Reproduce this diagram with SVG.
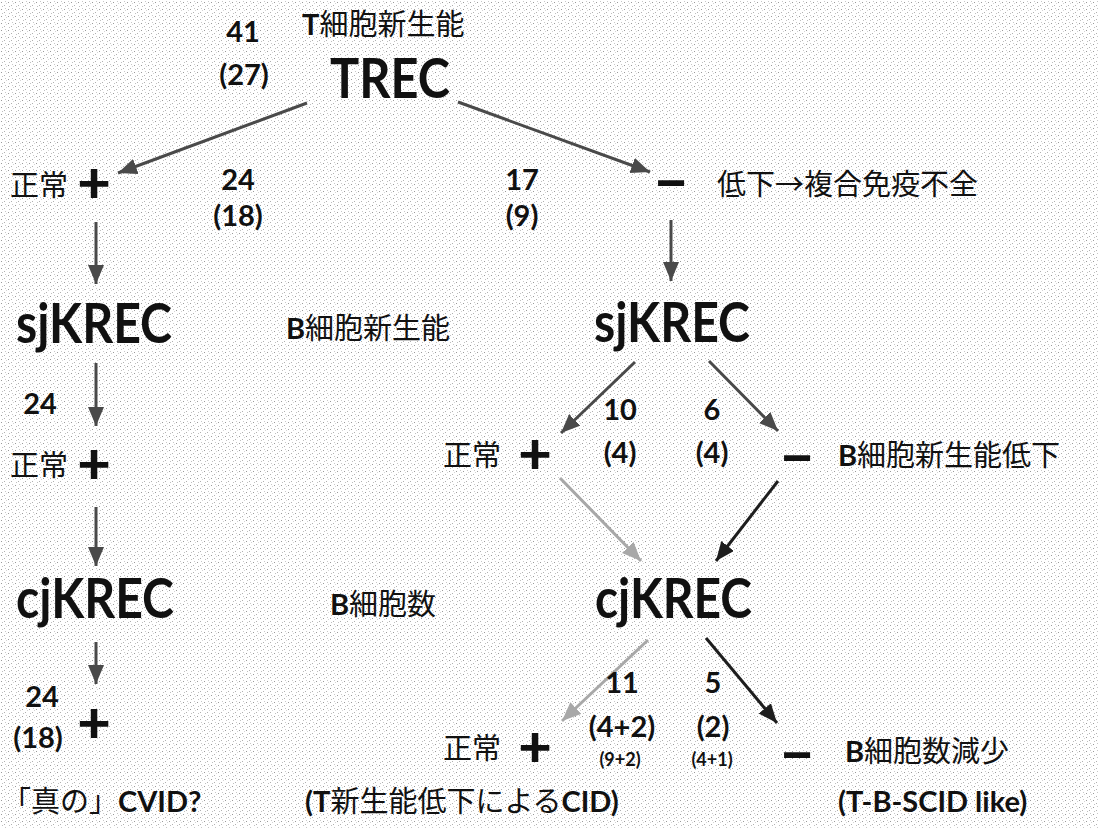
<svg xmlns="http://www.w3.org/2000/svg" width="1098" height="828" viewBox="0 0 1098 828">
<defs>
<pattern id="bg" width="7" height="7" patternUnits="userSpaceOnUse">
<rect width="7" height="7" fill="#ffffff"/>
<rect x="1" y="2" width="1" height="1" fill="#9a9a9a"/>
<rect x="4" y="5" width="1" height="1" fill="#b0b0b0"/>
<rect x="5" y="1" width="1" height="1" fill="#c8c8c8"/>
<rect x="2" y="6" width="1" height="1" fill="#c0c0c0"/>
<rect x="6" y="3" width="1" height="1" fill="#d4d4d4"/>
</pattern>
<marker id="aDark" markerUnits="userSpaceOnUse" markerWidth="22" markerHeight="18" refX="19" refY="8" orient="auto"><path d="M0,0 L19,8 L0,16 z" fill="#4a4a4a"/></marker>
<marker id="aLight" markerUnits="userSpaceOnUse" markerWidth="22" markerHeight="18" refX="19" refY="8" orient="auto"><path d="M0,0 L19,8 L0,16 z" fill="#a8a8a8"/></marker>
<marker id="aBlack" markerUnits="userSpaceOnUse" markerWidth="22" markerHeight="18" refX="19" refY="8" orient="auto"><path d="M0,0 L19,8 L0,16 z" fill="#1e1e1e"/></marker>
</defs>
<style>
text{font-family:Lato,"Noto Sans CJK JP",sans-serif;fill:#111}
.num{font-size:29px;font-weight:700;text-anchor:middle}
.sm{font-size:18px;font-weight:700;text-anchor:middle}
.big{font-size:55px;font-weight:700}
.jp{font-size:29px;font-family:"Noto Sans CJK JP",sans-serif}
.b{font-family:Lato,sans-serif;font-weight:700}
.sym{font-size:58px;font-weight:900;text-anchor:middle}
.lab{font-size:29px;font-weight:700}
.dark{stroke:#4a4a4a;stroke-width:3;fill:none;marker-end:url(#aDark)}
.light{stroke:#a8a8a8;stroke-width:3;fill:none;marker-end:url(#aLight)}
.black{stroke:#1e1e1e;stroke-width:3;fill:none;marker-end:url(#aBlack)}
</style>
<rect width="1098" height="828" fill="url(#bg)"/>

<g id="connectors">
<line class="dark" x1="307" y1="103" x2="118" y2="173"/>
<line class="dark" x1="458" y1="102" x2="650" y2="172"/>
<line class="dark" x1="96" y1="222" x2="96" y2="284"/>
<line class="dark" x1="96" y1="363" x2="96" y2="426"/>
<line class="dark" x1="96" y1="507" x2="96" y2="566"/>
<line class="dark" x1="96" y1="642" x2="96" y2="684"/>
<line class="dark" x1="671" y1="220" x2="671" y2="281"/>
<line class="dark" x1="635" y1="362" x2="561" y2="433"/>
<line class="dark" x1="709" y1="361" x2="778" y2="431"/>
<line class="light" x1="560" y1="478" x2="641" y2="561"/>
<line class="black" x1="778" y1="481" x2="716" y2="561"/>
<line class="light" x1="648" y1="640" x2="562" y2="721"/>
<line class="black" x1="706" y1="638" x2="777" y2="723"/>
</g>

<g id="trec">
<text class="num" x="243" y="42">41</text>
<text class="num" x="244" y="85">(27)</text>
<text class="jp" x="302" y="35"><tspan class="b">T</tspan>細胞新生能</text>
<text class="big" x="330" y="98" textLength="120" lengthAdjust="spacingAndGlyphs">TREC</text>
</g>

<g id="trec-pos">
<text class="jp" x="10" y="196">正常</text>
<text class="sym" x="94" y="203">+</text>
<text class="num" x="238" y="190">24</text>
<text class="num" x="238" y="226">(18)</text>
</g>

<g id="trec-neg">
<text class="num" x="522" y="190">17</text>
<text class="num" x="522" y="226">(9)</text>
<text class="sym" x="671" y="202">−</text>
<text class="jp" x="717" y="195">低下→複合免疫不全</text>
</g>

<g id="sjkrec-left">
<text class="big" x="16" y="343" textLength="156" lengthAdjust="spacingAndGlyphs">sjKREC</text>
</g>
<text class="jp" x="286" y="339"><tspan class="b">B</tspan>細胞新生能</text>

<g id="sjkrec-left-pos">
<text class="num" x="40" y="414">24</text>
<text class="jp" x="10" y="476">正常</text>
<text class="sym" x="94" y="484">+</text>
</g>

<g id="cjkrec-left">
<text class="big" x="16" y="618" textLength="158" lengthAdjust="spacingAndGlyphs">cjKREC</text>
</g>
<text class="jp" x="330" y="615"><tspan class="b">B</tspan>細胞数</text>

<g id="cjkrec-left-pos">
<text class="num" x="42" y="707">24</text>
<text class="num" x="38" y="748">(18)</text>
<text class="sym" x="94" y="743">+</text>
<text class="jp" x="2" y="812">「真の」<tspan class="b">CVID?</tspan></text>
</g>

<g id="sjkrec-right">
<text class="big" x="594" y="342" textLength="156" lengthAdjust="spacingAndGlyphs">sjKREC</text>
</g>

<g id="sjkrec-right-pos">
<text class="jp" x="443" y="466">正常</text>
<text class="sym" x="535" y="474">+</text>
<text class="num" x="620" y="420">10</text>
<text class="num" x="620" y="463">(4)</text>
</g>

<g id="sjkrec-right-neg">
<text class="num" x="712" y="420">6</text>
<text class="num" x="712" y="463">(4)</text>
<text class="sym" x="797" y="477">−</text>
<text class="jp" x="838" y="466"><tspan class="b">B</tspan>細胞新生能低下</text>
</g>

<g id="cjkrec-right">
<text class="big" x="595" y="618" textLength="157" lengthAdjust="spacingAndGlyphs">cjKREC</text>
</g>

<g id="cjkrec-right-pos">
<text class="num" x="622" y="693">11</text>
<text class="num" x="622" y="737">(4+2)</text>
<text class="sm" x="620" y="766">(9+2)</text>
<text class="jp" x="443" y="759">正常</text>
<text class="sym" x="535" y="767">+</text>
<text class="lab" x="305" y="812">(T<tspan class="jp" style="font-weight:400">新生能低下による</tspan>CID)</text>
</g>

<g id="cjkrec-right-neg">
<text class="num" x="713" y="693">5</text>
<text class="num" x="713" y="737">(2)</text>
<text class="sm" x="712" y="766">(4+1)</text>
<text class="sym" x="797" y="774">−</text>
<text class="jp" x="845" y="762"><tspan class="b">B</tspan>細胞数減少</text>
<text class="lab" x="838" y="812">(T-B-SCID like)</text>
</g>
</svg>
